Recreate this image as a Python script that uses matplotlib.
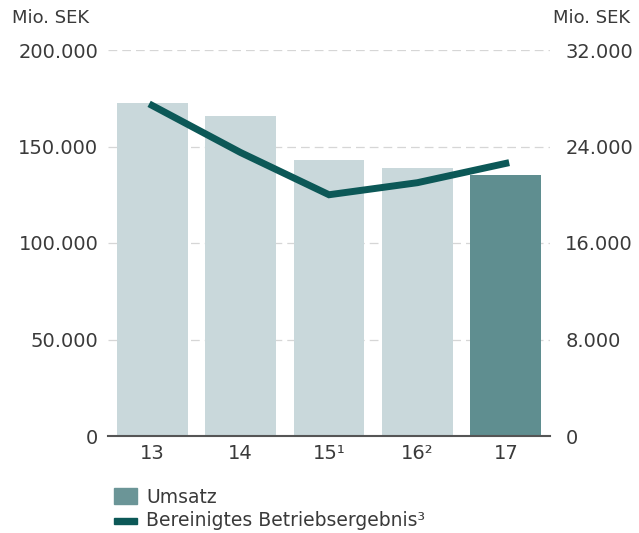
import matplotlib.pyplot as plt
import matplotlib.patches as mpatches

plt.rcParams['font.family'] = ['DejaVu Sans']

years = ['13', '14', '15¹', '16²', '17']
umsatz = [172500, 166000, 143000, 139000, 135000]
ergebnis = [27400, 23500, 20000, 21000, 22600]
left_ticks = [0, 50000, 100000, 150000, 200000]
left_labels = ['0', '50.000', '100.000', '150.000', '200.000']
right_ticks = [0, 8000, 16000, 24000, 32000]
right_labels = ['0', '8.000', '16.000', '24.000', '32.000']

bar_light = '#c9d8db'
bar_dark = '#5f8e90'
line_col = '#0c5857'
txt = '#3a3a3a'

fig = plt.figure(figsize=(6.39, 5.33), dpi=100)
ax = fig.add_axes([108 / 639, 1 - 436 / 533, 442 / 639, 386 / 533])

x = range(len(years))
colors = [bar_light] * 4 + [bar_dark]
ax.bar(x, umsatz, width=0.8, color=colors, zorder=2)
ax.set_xlim(-0.5, 4.5)
ax.set_ylim(0, 200000)
ax.set_yticks(left_ticks)
ax.set_yticklabels(left_labels)
ax.set_xticks(list(x))
ax.set_xticklabels(years)

for t in left_ticks[1:]:
    ax.axhline(t, color='#d6d6d6', lw=0.9, ls=(0, (7, 4)), zorder=1)

for s in ['top', 'right', 'left']:
    ax.spines[s].set_visible(False)
ax.spines['bottom'].set_color('#555555')
ax.spines['bottom'].set_linewidth(1.5)
ax.tick_params(axis='both', length=0, labelsize=14, colors=txt)
ax.tick_params(axis='y', pad=7)
ax.tick_params(axis='x', pad=6)

ax2 = ax.twinx()
ax2.plot(list(x), ergebnis, color=line_col, lw=5, solid_joinstyle='miter', zorder=3)
ax2.set_ylim(0, 32000)
ax2.set_yticks(right_ticks)
ax2.set_yticklabels(right_labels)
for s in ['top', 'right', 'left', 'bottom']:
    ax2.spines[s].set_visible(False)
ax2.tick_params(axis='y', length=0, labelsize=14, colors=txt, pad=11)

fig.text(12 / 639, 1 - 18 / 533, 'Mio. SEK', fontsize=13, color=txt, va='center', ha='left')
fig.text(630 / 639, 1 - 18 / 533, 'Mio. SEK', fontsize=13, color=txt, va='center', ha='right')

h1 = mpatches.Patch(color='#6b9597', label='Umsatz')
h2 = mpatches.Patch(color=line_col, label='Bereinigtes Betriebsergebnis³')
leg = fig.legend(handles=[h1, h2], loc='upper left', bbox_to_anchor=(0.152, 0.117),
                 frameon=False, fontsize=13.5, handlelength=1.2, handleheight=1.0,
                 handletextpad=0.5, labelspacing=0.25)
for t in leg.get_texts():
    t.set_color(txt)
# make the line handle a thin bar
leg.legend_handles[1].set_height(4)
leg.legend_handles[1].set_y(leg.legend_handles[1].get_y() + 3)

fig.savefig('out.png', dpi=100)
